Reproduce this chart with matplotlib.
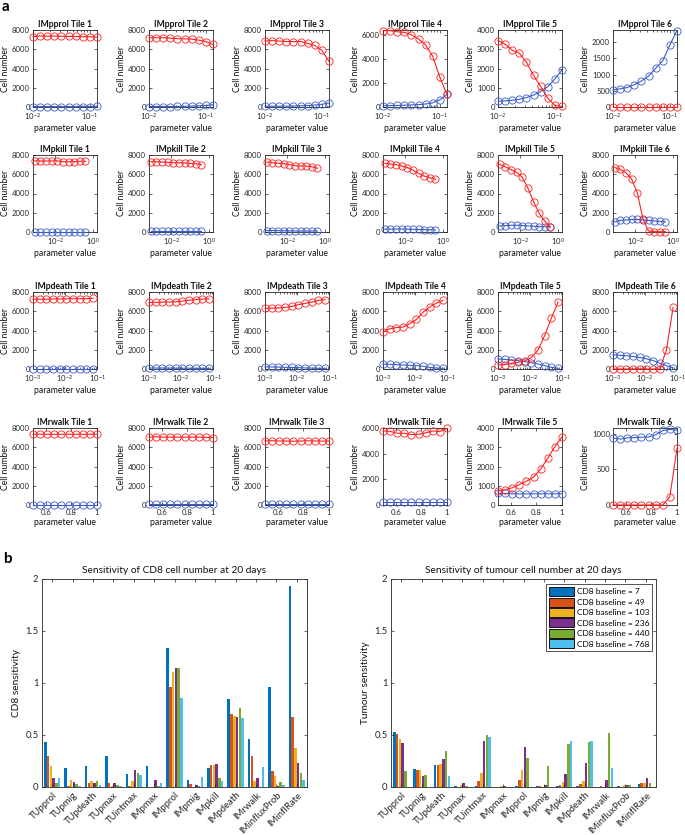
import numpy as np
import matplotlib
matplotlib.use('Agg')
import matplotlib.pyplot as plt
from matplotlib.ticker import NullFormatter, FixedLocator, FuncFormatter, LogLocator
from matplotlib.patches import Patch

plt.rcParams['font.family'] = ['Lato', 'DejaVu Sans']
plt.rcParams['mathtext.fontset'] = 'custom'
plt.rcParams['mathtext.rm'] = 'Lato'
plt.rcParams['mathtext.it'] = 'Lato:italic'
plt.rcParams['mathtext.bf'] = 'Lato:bold'

# ---------------- data: panel a ----------------
row_names = ['IMpprol', 'IMpkill', 'IMpdeath', 'IMrwalk']

pprol_x = [0.0100, 0.0133, 0.0178, 0.0237, 0.0316, 0.0422, 0.0562, 0.0750, 0.1000, 0.1334]
pkill_x = [0.0008, 0.0016, 0.0032, 0.0064, 0.0128, 0.0256, 0.0512, 0.1024, 0.2048, 0.4096]
pdeath_x = [0.0010, 0.0016, 0.0026, 0.0042, 0.0068, 0.0110, 0.0178, 0.0288, 0.0466, 0.0754]
rwalk_x = [0.500, 0.556, 0.611, 0.667, 0.722, 0.778, 0.833, 0.889, 0.944, 1.000]

# tumour (red) and CD8 (blue) cell numbers, per tile
pprol_tumour = [
    [7300, 7380, 7350, 7380, 7350, 7330, 7330, 7300, 7300, 7250],
    [7200, 7200, 7200, 7150, 7100, 7080, 7050, 6950, 6800, 6500],
    [6850, 6900, 6850, 6800, 6800, 6800, 6600, 6400, 5900, 4750],
    [6400, 6400, 6300, 6250, 6050, 5700, 5200, 4250, 2500, 1050],
    [3450, 3270, 2950, 2800, 2330, 1650, 1070, 460, 80, 30],
    [10, 10, 10, 10, 10, 10, 10, 10, 10, 10],
]
pprol_cd8 = [
    [40, 40, 40, 40, 40, 40, 40, 50, 50, 80],
    [50, 50, 50, 50, 60, 70, 90, 120, 160, 230],
    [80, 80, 80, 90, 100, 120, 150, 200, 280, 420],
    [100, 110, 130, 150, 170, 200, 250, 350, 600, 1050],
    [300, 320, 350, 400, 490, 620, 800, 1050, 1450, 1920],
    [525, 560, 600, 690, 800, 950, 1190, 1420, 1900, 2350],
]
pkill_tumour = [
    [7400, 7380, 7380, 7380, 7400, 7300, 7300, 7300, 7350, 7350],
    [7300, 7300, 7270, 7250, 7200, 7200, 7170, 7130, 7080, 7000],
    [7270, 7200, 7150, 7100, 7000, 6900, 6850, 6850, 6780, 6620],
    [7130, 7060, 7000, 6860, 6700, 6440, 6100, 5810, 5650, 5480],
    [7020, 6770, 6490, 6210, 5680, 4560, 3160, 1930, 1120, 530],
    [6700, 6500, 6150, 5500, 4100, 1400, 100, 50, 30, 30],
]
pkill_cd8 = [
    [50, 50, 50, 50, 50, 50, 50, 50, 50, 50],
    [100, 100, 100, 100, 100, 100, 100, 100, 100, 100],
    [150, 150, 140, 130, 120, 110, 100, 100, 100, 100],
    [300, 300, 310, 310, 300, 270, 260, 240, 230, 200],
    [630, 670, 700, 700, 670, 630, 600, 560, 560, 530],
    [1050, 1200, 1250, 1300, 1300, 1250, 1200, 1150, 1100, 1050],
]
pdeath_tumour = [
    [7250, 7250, 7250, 7280, 7280, 7300, 7300, 7300, 7300, 7350],
    [6920, 6920, 6950, 6950, 6990, 7050, 7150, 7200, 7270, 7300],
    [6300, 6320, 6350, 6400, 6500, 6680, 6820, 6950, 7130, 7200],
    [3830, 4170, 4300, 4350, 4700, 5150, 5900, 6440, 6850, 7130],
    [420, 450, 590, 700, 830, 1180, 1980, 3480, 5290, 6960],
    [0, 0, 0, 0, 0, 0, 0, 0, 1950, 6400],
]
pdeath_cd8 = [
    [30, 30, 30, 30, 30, 30, 30, 30, 30, 30],
    [100, 100, 100, 90, 90, 80, 80, 70, 70, 60],
    [220, 210, 200, 180, 160, 140, 110, 90, 70, 60],
    [520, 490, 450, 420, 380, 350, 280, 170, 100, 70],
    [1040, 1000, 940, 870, 770, 660, 520, 350, 170, 70],
    [1480, 1430, 1380, 1300, 1200, 1060, 880, 620, 330, 130],
]
rwalk_tumour = [
    [7350, 7360, 7340, 7350, 7350, 7360, 7350, 7340, 7350, 7360],
    [7050, 7080, 7050, 7050, 7050, 7050, 7050, 7050, 7030, 7000],
    [6650, 6680, 6650, 6650, 6630, 6650, 6670, 6650, 6640, 6650],
    [5770, 5740, 5590, 5590, 5490, 5510, 5620, 5770, 5720, 5970],
    [715, 800, 890, 1060, 1230, 1450, 1870, 2430, 3030, 3540],
    [0, 0, 0, 0, 0, 0, 0, 0, 116, 795],
]
rwalk_cd8 = [
    [30, 30, 30, 30, 30, 30, 30, 30, 30, 30],
    [120, 120, 120, 120, 120, 120, 120, 120, 120, 120],
    [150, 150, 150, 150, 150, 150, 150, 150, 150, 150],
    [260, 260, 260, 260, 260, 260, 260, 260, 260, 260],
    [600, 600, 580, 580, 580, 580, 580, 580, 580, 580],
    [940, 925, 940, 945, 950, 955, 985, 1045, 1060, 1050],
]

# ---------------- data: panel b ----------------
params = ['TUpprol', 'TUpmig', 'TUpdeath', 'TUpmax', 'TUintmax', 'IMpmax', 'IMpprol',
          'IMpmig', 'IMpkill', 'IMpdeath', 'IMrwalk', 'IMinfluxProb', 'IMinflRate']
baselines = [7, 49, 103, 236, 440, 768]

cd8_sens = [  # rows: parameter, cols: baseline
    [0.434, 0.296, 0.200, 0.087, 0.042, 0.084],
    [0.187, 0.010, 0.064, 0.048, 0.026, 0.006],
    [0.200, 0.042, 0.055, 0.039, 0.058, 0.019],
    [0.300, 0.039, 0.010, 0.039, 0.016, 0.006],
    [0.122, 0.013, 0.058, 0.160, 0.135, 0.119],
    [0.206, 0.000, 0.000, 0.068, 0.013, 0.035],
    [1.340, 0.965, 1.106, 1.148, 1.148, 0.859],
    [0.071, 0.029, 0.003, 0.019, 0.013, 0.093],
    [0.180, 0.215, 0.209, 0.219, 0.087, 0.058],
    [0.842, 0.704, 0.685, 0.669, 0.762, 0.666],
    [0.463, 0.302, 0.058, 0.090, 0.000, 0.193],
    [0.965, 0.151, 0.103, 0.013, 0.048, 0.016],
    [1.930, 0.669, 0.376, 0.232, 0.135, 0.071],
]
tumour_sens = [
    [0.527, 0.508, 0.466, 0.424, 0.154, 0.000],
    [0.174, 0.161, 0.161, 0.109, 0.116, 0.000],
    [0.215, 0.215, 0.222, 0.273, 0.347, 0.106],
    [0.010, 0.000, 0.016, 0.035, 0.013, 0.000],
    [0.006, 0.055, 0.132, 0.444, 0.502, 0.482],
    [0.000, 0.000, 0.010, 0.006, 0.003, 0.000],
    [0.006, 0.064, 0.164, 0.386, 0.280, 0.000],
    [0.006, 0.006, 0.000, 0.016, 0.200, 0.000],
    [0.006, 0.022, 0.048, 0.125, 0.415, 0.447],
    [0.006, 0.026, 0.058, 0.235, 0.437, 0.444],
    [0.000, 0.010, 0.000, 0.064, 0.521, 0.183],
    [0.006, 0.000, 0.016, 0.016, 0.019, 0.000],
    [0.032, 0.039, 0.039, 0.090, 0.039, 0.000],
]

bar_colors = ['#0072BD', '#D95319', '#EDB120', '#7E2F8E', '#77AC30', '#4DBEEE']
RED = '#ff2020'
BLUE = '#3a5cc8'
AXC = '#262626'

# ---------------- layout ----------------
W, H = 685, 835
fig = plt.figure(figsize=(W / 100, H / 100), dpi=100)


def px_axes(left, top, width, height):
    return fig.add_axes([left / W, 1 - (top + height) / H, width / W, height / H])


def style(ax, fs, xpad=1.5, ypad=1.5):
    for s in ax.spines.values():
        s.set_color(AXC)
        s.set_linewidth(0.6)
    ax.tick_params(which='both', direction='in', top=True, right=True,
                   colors=AXC, labelsize=fs, width=0.5)
    ax.tick_params(axis='x', pad=xpad)
    ax.tick_params(axis='y', pad=ypad)
    ax.tick_params(which='major', length=2.5)
    ax.tick_params(which='minor', length=1.3)


col_left = [33, 149, 265, 383, 498, 613]
row_top = [30, 155, 292, 428]
tile_w, tile_h = 64, 77

row_x = [pprol_x, pkill_x, pdeath_x, rwalk_x]
row_tum = [pprol_tumour, pkill_tumour, pdeath_tumour, rwalk_tumour]
row_cd8 = [pprol_cd8, pkill_cd8, pdeath_cd8, rwalk_cd8]
row_xlim = [(0.0100, 0.1340), (0.00065, 1.7), (0.001, 0.1), (0.5, 1.0)]
row_xticks = [[1e-2, 1e-1], [1e-2, 1e0], [1e-3, 1e-2, 1e-1], [0.6, 0.8, 1.0]]
ytop = [
    [8000, 8000, 8000, 6450, 4000, 2370],
    [8000, 8000, 8000, 8000, 8000, 8000],
    [8000, 8000, 8000, 8000, 8000, 8000],
    [8000, 8000, 8000, 6000, 4000, 1080],
]


def yticks_for(top):
    if top > 4500:
        step = 2000
    elif top > 2500:
        step = 1000
    else:
        step = 500
    return np.arange(0, top + 1, step)


logfmt = FuncFormatter(lambda v, p: r'$10^{%d}$' % int(round(np.log10(v))))

for r in range(4):
    for c in range(6):
        ax = px_axes(col_left[c], row_top[r], tile_w, tile_h)
        x = row_x[r]
        ax.plot(x, row_cd8[r][c], '-o', color=BLUE, lw=0.8, ms=5.2,
                mfc='none', mew=0.6, clip_on=False, zorder=3)
        ax.plot(x, row_tum[r][c], '-o', color=RED, lw=0.8, ms=5.2,
                mfc='none', mew=0.6, clip_on=False, zorder=4)
        if r < 3:
            ax.set_xscale('log')
            ax.xaxis.set_major_locator(FixedLocator(row_xticks[r]))
            ax.xaxis.set_major_formatter(logfmt)
            ax.xaxis.set_minor_locator(LogLocator(base=10, subs=np.arange(2, 10)))
            ax.xaxis.set_minor_formatter(NullFormatter())
        else:
            ax.set_xticks(row_xticks[r])
            ax.set_xticklabels(['0.6', '0.8', '1'])
        ax.set_xlim(*row_xlim[r])
        ax.set_ylim(0, ytop[r][c])
        ax.set_yticks(yticks_for(ytop[r][c]))
        style(ax, 5.6, xpad=3.0, ypad=2.2)
        ax.set_title('%s Tile %d' % (row_names[r], c + 1), fontsize=6.2,
                     fontweight='bold', pad=2.5, color='#111111')
        ax.set_xlabel('parameter value', fontsize=6.2, labelpad=1.5, color='#111111')
        ax.set_ylabel('Cell number', fontsize=6.2, labelpad=1.5, color='#111111')

# ---------------- panel b ----------------
cd8_arr = np.array(cd8_sens)
tum_arr = np.array(tumour_sens)
xpos = np.arange(1, len(params) + 1)
nb = len(baselines)
step = 0.136
bw = 0.125

for k, (arr, left, title, ylab) in enumerate([
        (cd8_arr, 42, 'Sensitivity of CD8 cell number at 20 days', 'CD8 sensitivity'),
        (tum_arr, 391, 'Sensitivity of tumour cell number at 20 days', 'Tumour sensitivity')]):
    ax = px_axes(left, 579, 265, 208)
    for j in range(nb):
        ax.bar(xpos + (j - (nb - 1) / 2) * step, arr[:, j], width=bw,
               color=bar_colors[j], linewidth=0,
               label='CD8 baseline = %d' % baselines[j])
    ax.set_xlim(0.5, len(params) + 0.5)
    ax.set_ylim(0, 2)
    ax.set_yticks([0, 0.5, 1, 1.5, 2])
    ax.set_yticklabels(['0', '0.5', '1', '1.5', '2'])
    ax.set_xticks(xpos)
    ax.set_xticklabels(params, rotation=45, ha='right', rotation_mode='anchor')
    style(ax, 6.8, xpad=2.5, ypad=2.5)
    ax.set_title(title, fontsize=7.3, pad=4, color='#111111')
    ax.set_ylabel(ylab, fontsize=7.3, labelpad=3, color='#111111')
    if k == 1:
        handles = [Patch(facecolor=bar_colors[j], edgecolor='#111111', linewidth=0.7,
                         label='CD8 baseline = %d' % baselines[j]) for j in range(nb)]
        leg = ax.legend(handles=handles, loc='upper right', bbox_to_anchor=(0.985, 0.975),
                        fontsize=6.0, frameon=True, fancybox=False, edgecolor='#262626',
                        handlelength=3.0, handleheight=1.3, labelspacing=0.16,
                        handletextpad=0.3, borderpad=0.35, borderaxespad=0)
        leg.get_frame().set_linewidth(0.7)

fig.text(2 / W, 1 - 11 / H, 'a', fontsize=11, fontweight='bold', va='baseline')
fig.text(3 / W, 1 - 563 / H, 'b', fontsize=11, fontweight='bold', va='baseline')

fig.savefig('out.png', dpi=100)
